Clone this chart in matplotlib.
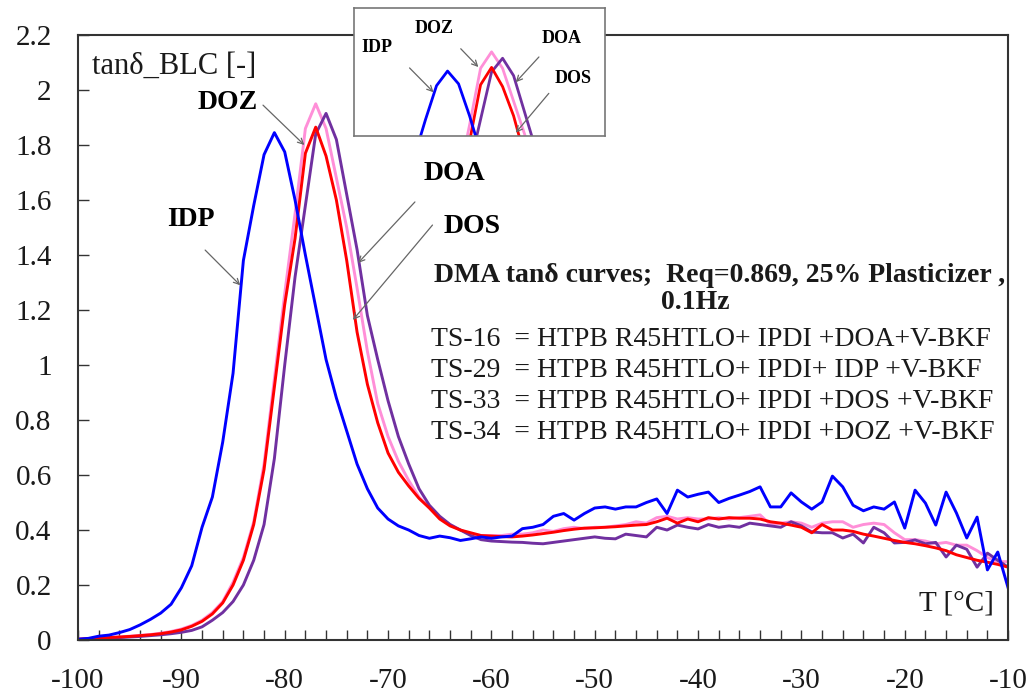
import matplotlib
matplotlib.use("Agg")
import matplotlib.pyplot as plt
from matplotlib.ticker import FuncFormatter, MultipleLocator
import numpy as np

plt.rcParams["font.family"] = ["Liberation Serif", "DejaVu Serif"]
plt.rcParams["axes.unicode_minus"] = False

# --- data ---
temperature = np.arange(-100, -9, 1)  # deg C, 1 degree steps

tan_idp = [  # TS-29, IDP
    0.003, 0.006, 0.014, 0.018, 0.027, 0.038, 0.055, 0.075, 0.098, 0.13,
    0.19, 0.27, 0.41, 0.52, 0.72, 0.97, 1.38, 1.58, 1.765, 1.845,
    1.775, 1.60, 1.40, 1.21, 1.02, 0.88, 0.76, 0.64, 0.55, 0.48,
    0.44, 0.415, 0.40, 0.38, 0.37, 0.378, 0.372, 0.362, 0.368, 0.375,
    0.37, 0.375, 0.378, 0.405, 0.41, 0.42, 0.45, 0.46, 0.436, 0.46,
    0.48, 0.484, 0.476, 0.484, 0.484, 0.50, 0.513, 0.46, 0.545, 0.52,
    0.53, 0.538, 0.50, 0.515, 0.527, 0.54, 0.557, 0.484, 0.484, 0.535,
    0.502, 0.476, 0.502, 0.596, 0.557, 0.49, 0.47, 0.484, 0.476, 0.502,
    0.407, 0.545, 0.498, 0.418, 0.538, 0.462, 0.371, 0.447, 0.255, 0.32,
    0.19,
]
tan_dos = [  # TS-33, DOS
    0.003, 0.005, 0.007, 0.009, 0.011, 0.013, 0.016, 0.019, 0.023, 0.029,
    0.037, 0.05, 0.068, 0.095, 0.135, 0.20, 0.29, 0.42, 0.62, 0.92,
    1.22, 1.46, 1.77, 1.865, 1.76, 1.60, 1.38, 1.12, 0.93, 0.79,
    0.68, 0.61, 0.56, 0.515, 0.48, 0.44, 0.415, 0.40, 0.39, 0.38,
    0.378, 0.376, 0.375, 0.378, 0.382, 0.387, 0.392, 0.398, 0.403, 0.407,
    0.408, 0.41, 0.412, 0.415, 0.418, 0.42, 0.43, 0.443, 0.425, 0.44,
    0.43, 0.445, 0.44, 0.445, 0.443, 0.443, 0.44, 0.43, 0.425, 0.418,
    0.41, 0.39, 0.42, 0.40, 0.40, 0.395, 0.385, 0.378, 0.37, 0.362,
    0.355, 0.35, 0.343, 0.335, 0.325, 0.31, 0.30, 0.29, 0.283, 0.275,
    0.265,
]
tan_doz = [  # TS-34, DOZ
    0.003, 0.005, 0.007, 0.009, 0.011, 0.014, 0.017, 0.02, 0.025, 0.031,
    0.04, 0.053, 0.072, 0.10, 0.14, 0.21, 0.30, 0.43, 0.64, 0.95,
    1.26, 1.55, 1.86, 1.95, 1.86, 1.68, 1.50, 1.28, 1.05, 0.86,
    0.74, 0.65, 0.58, 0.52, 0.48, 0.445, 0.42, 0.40, 0.385, 0.38,
    0.38, 0.38, 0.385, 0.385, 0.39, 0.40, 0.395, 0.405, 0.41, 0.405,
    0.41, 0.41, 0.415, 0.42, 0.43, 0.425, 0.445, 0.45, 0.44, 0.445,
    0.44, 0.44, 0.445, 0.44, 0.445, 0.45, 0.455, 0.42, 0.425, 0.43,
    0.425, 0.41, 0.425, 0.43, 0.43, 0.41, 0.42, 0.425, 0.42, 0.39,
    0.365, 0.365, 0.36, 0.35, 0.355, 0.345, 0.345, 0.325, 0.30, 0.285,
    0.285,
]
tan_doa = [  # TS-16, DOA
    0.002, 0.003, 0.005, 0.007, 0.009, 0.011, 0.013, 0.016, 0.019, 0.023,
    0.028, 0.035, 0.048, 0.072, 0.10, 0.14, 0.20, 0.29, 0.42, 0.66,
    1.00, 1.32, 1.58, 1.84, 1.915, 1.82, 1.62, 1.42, 1.18, 1.02,
    0.87, 0.74, 0.64, 0.55, 0.49, 0.45, 0.42, 0.40, 0.38, 0.365,
    0.36, 0.358, 0.356, 0.355, 0.352, 0.35, 0.355, 0.36, 0.365, 0.37,
    0.375, 0.37, 0.368, 0.385, 0.38, 0.375, 0.41, 0.40, 0.418, 0.41,
    0.404, 0.42, 0.41, 0.415, 0.41, 0.425, 0.42, 0.415, 0.41, 0.43,
    0.415, 0.393, 0.39, 0.39, 0.371, 0.385, 0.353, 0.41, 0.39, 0.353,
    0.355, 0.364, 0.35, 0.355, 0.302, 0.345, 0.33, 0.265, 0.316, 0.29,
    0.265,
]

# draw order: pink, purple, red, blue
series = [
    ("DOZ", tan_doz, "#FF8FD8"),
    ("DOA", tan_doa, "#7030A0"),
    ("DOS", tan_dos, "#FF0000"),
    ("IDP", tan_idp, "#0000FF"),
]

legend_lines = [
    "TS-16  = HTPB R45HTLO+ IPDI +DOA+V-BKF",
    "TS-29  = HTPB R45HTLO+ IPDI+ IDP +V-BKF",
    "TS-33  = HTPB R45HTLO+ IPDI +DOS +V-BKF",
    "TS-34  = HTPB R45HTLO+ IPDI +DOZ +V-BKF",
]

FRAME = "#333333"
TXT = "#1a1a1a"
ARROW = dict(arrowstyle="->", color="#666666", lw=0.9, shrinkA=0, shrinkB=0)


def tick_fmt(v, _pos):
    return f"{v:g}"


fig = plt.figure(figsize=(10.35, 6.92), dpi=100)
ax = fig.add_axes([0.0754, 0.0751, 0.8986, 0.8743])

for name, vals, color in series:
    ax.plot(temperature, vals, color=color, lw=2.1)

ax.set_xlim(-100, -10)
ax.set_ylim(0, 2.2)
ax.xaxis.set_major_locator(MultipleLocator(10))
ax.xaxis.set_minor_locator(MultipleLocator(2))
ax.yaxis.set_major_locator(MultipleLocator(0.2))
ax.xaxis.set_major_formatter(FuncFormatter(tick_fmt))
ax.yaxis.set_major_formatter(FuncFormatter(tick_fmt))
ax.tick_params(axis="both", which="both", direction="in", color=FRAME,
               labelsize=21, labelcolor=TXT)
ax.tick_params(axis="x", which="both", length=7, width=1.0, pad=20)
ax.tick_params(axis="y", which="major", length=8, width=1.0, pad=19)
ax.tick_params(top=False, right=False)
for sp in ax.spines.values():
    sp.set_color(FRAME)
    sp.set_linewidth(1.5)

fig.text(92 / 1035, 1 - 66 / 692, "tan\u03b4_BLC [-]", fontsize=22,
         va="center", ha="left", color=TXT)
ax.text(0.985, 0.06, "T [\u00b0C]", transform=ax.transAxes, fontsize=21,
        ha="right", va="center", color=TXT)

# curve labels with arrows
ax.text(-85.5, 1.956, "DOZ", fontsize=20, fontweight="bold", ha="center", va="center")
ax.annotate("", xy=(-78.1, 1.80), xytext=(-82.1, 1.945), arrowprops=ARROW)
ax.text(-89.1, 1.53, "IDP", fontsize=20, fontweight="bold", ha="center", va="center")
ax.annotate("", xy=(-84.3, 1.29), xytext=(-87.7, 1.418), arrowprops=ARROW)
ax.text(-63.6, 1.695, "DOA", fontsize=20, fontweight="bold", ha="center", va="center")
ax.annotate("", xy=(-72.9, 1.371), xytext=(-67.4, 1.593), arrowprops=ARROW)
ax.text(-61.9, 1.505, "DOS", fontsize=20, fontweight="bold", ha="center", va="center")
ax.annotate("", xy=(-73.4, 1.164), xytext=(-65.7, 1.509), arrowprops=ARROW)

# description block
ax.text(-37.9, 1.327, "DMA tan\u03b4 curves;  Req=0.869, 25% Plasticizer ,",
        fontsize=20, fontweight="bold", ha="center", va="center", color=TXT)
ax.text(-40.3, 1.229, "0.1Hz", fontsize=20, fontweight="bold", ha="center",
        va="center", color=TXT)
for i, line in enumerate(legend_lines):
    ax.text(-65.8, 1.091 - i * 0.112, line, fontsize=20, ha="left", va="center",
            color=TXT)

# zoomed inset of the peaks
ins = fig.add_axes([0.342, 0.8035, 0.2425, 0.185])
for name, vals, color in series:
    ins.plot(temperature, vals, color=color, lw=2.0)
ins.set_xlim(-89.5, -66.7)
ins.set_ylim(1.49, 2.19)
ins.set_xticks([])
ins.set_yticks([])
for sp in ins.spines.values():
    sp.set_color("#777777")
    sp.set_linewidth(1.2)

ins.text(-87.4, 1.972, "IDP", fontsize=13, fontweight="bold", ha="center", va="center")
ins.annotate("", xy=(-82.27, 1.729), xytext=(-84.45, 1.862), arrowprops=ARROW)
ins.text(-82.2, 2.077, "DOZ", fontsize=13, fontweight="bold", ha="center", va="center")
ins.annotate("", xy=(-78.2, 1.867), xytext=(-79.8, 1.967), arrowprops=ARROW)
ins.text(-70.6, 2.022, "DOA", fontsize=13, fontweight="bold", ha="center", va="center")
ins.annotate("", xy=(-74.8, 1.784), xytext=(-72.7, 1.922), arrowprops=ARROW)
ins.text(-69.6, 1.806, "DOS", fontsize=13, fontweight="bold", ha="center", va="center")
ins.annotate("", xy=(-74.8, 1.508), xytext=(-71.8, 1.723), arrowprops=ARROW)

fig.savefig("out.png", dpi=100)
